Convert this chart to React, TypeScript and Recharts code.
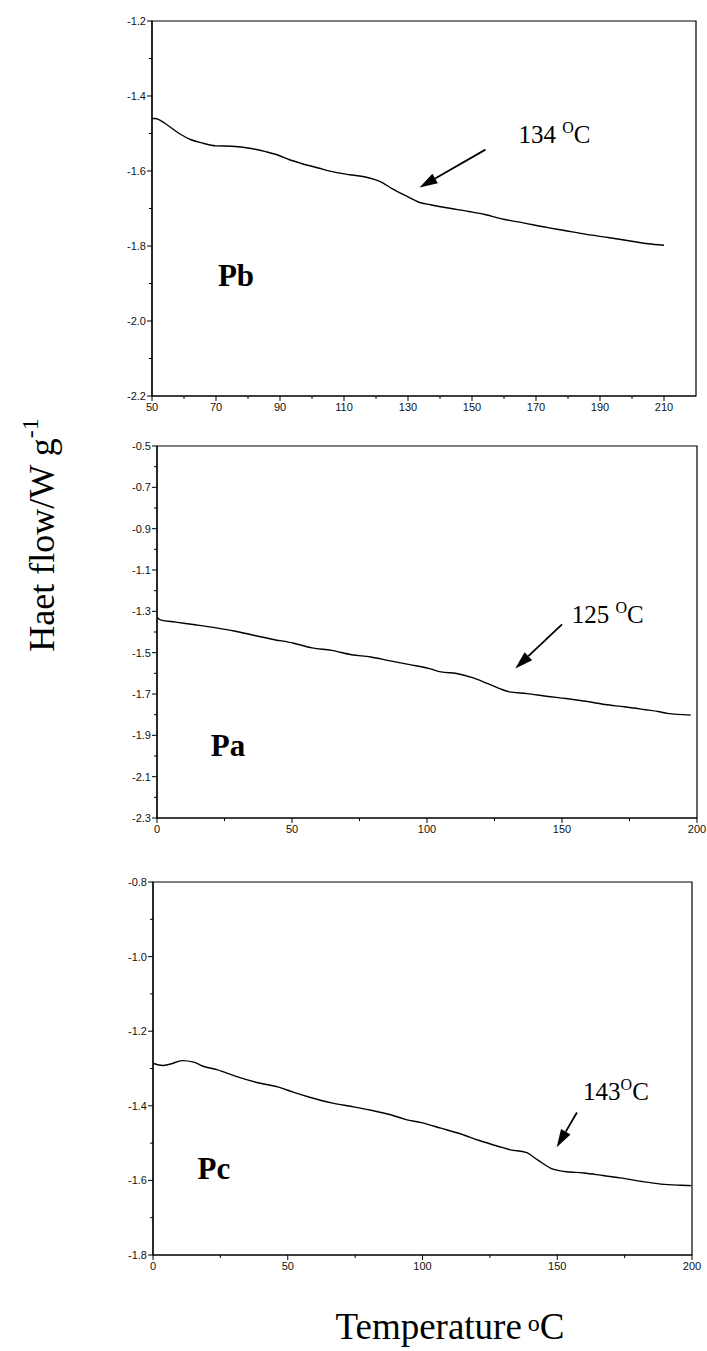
import React from 'react';
import { LineChart, Line, XAxis, YAxis, ReferenceArea, ReferenceDot, ReferenceLine } from 'recharts';

// ---------- Pb ----------
const pbTemp = [50, 51, 54.2, 58.5, 62, 65.5, 70, 75, 81, 85.8, 89.5, 93, 96.7, 102, 107, 111.8, 116.7, 121.5, 125, 130, 133.6, 137, 142, 149, 154, 159, 166.4, 173.7, 178.5, 185.8, 193, 200.4, 205, 210];
const pbFlow = [-1.46, -1.46, -1.474, -1.5, -1.516, -1.525, -1.533, -1.534, -1.54, -1.549, -1.558, -1.57, -1.58, -1.592, -1.603, -1.61, -1.616, -1.629, -1.647, -1.669, -1.684, -1.69, -1.698, -1.708, -1.716, -1.727, -1.739, -1.751, -1.758, -1.769, -1.778, -1.788, -1.794, -1.798];
const pbXMajor = [50, 70, 90, 110, 130, 150, 170, 190, 210];
const pbXMinor = [60, 80, 100, 120, 140, 160, 180, 200];
const pbYMajor = [-1.2, -1.4, -1.6, -1.8, -2.0, -2.2];
const pbYMinor = [-1.3, -1.5, -1.7, -1.9, -2.1];

// ---------- Pa ----------
const paTemp = [0, 1.2, 6.9, 14.1, 21.4, 28.6, 35.8, 43.1, 50.3, 57.5, 64.7, 72, 79.2, 86.4, 93.6, 100.9, 105.2, 111, 116.8, 122.5, 126.9, 130.5, 137, 144.2, 151.5, 158.7, 165.9, 173.1, 180.3, 186.1, 189, 197.7];
const paFlow = [-1.328, -1.341, -1.352, -1.365, -1.379, -1.395, -1.416, -1.436, -1.453, -1.477, -1.489, -1.51, -1.521, -1.54, -1.558, -1.577, -1.593, -1.601, -1.621, -1.65, -1.674, -1.69, -1.698, -1.711, -1.722, -1.735, -1.751, -1.762, -1.775, -1.786, -1.794, -1.802];
const paXMajor = [0, 50, 100, 150, 200];
const paXMinor = [25, 75, 125, 175];
const paYMajor = [-0.5, -0.7, -0.9, -1.1, -1.3, -1.5, -1.7, -1.9, -2.1, -2.3];
const paYMinor = [-0.6, -0.8, -1.0, -1.2, -1.4, -1.6, -1.8, -2.0, -2.2];

// ---------- Pc ----------
const pcTemp = [0, 3.6, 6.5, 10.8, 15.1, 18.6, 23.7, 30.8, 39.4, 46.6, 52.3, 58.1, 66.7, 73.8, 81, 88.2, 93.9, 99.6, 106.8, 114, 121.1, 128.3, 132.6, 138.4, 142.7, 148.4, 152.7, 159.9, 167, 174.2, 181.4, 188.5, 195.7, 199.7];
const pcFlow = [-1.286, -1.292, -1.288, -1.279, -1.283, -1.294, -1.303, -1.321, -1.339, -1.35, -1.364, -1.377, -1.393, -1.402, -1.412, -1.424, -1.437, -1.445, -1.46, -1.475, -1.493, -1.509, -1.518, -1.525, -1.545, -1.57, -1.576, -1.58, -1.587, -1.594, -1.603, -1.61, -1.613, -1.614];
const pcXMajor = [0, 50, 100, 150, 200];
const pcXMinor = [25, 75, 125, 175];
const pcYMajor = [-0.8, -1.0, -1.2, -1.4, -1.6, -1.8];
const pcYMinor = [-0.9, -1.1, -1.3, -1.5, -1.7];

// annotations: [x, y] in data units
const pbNote = { text: '134 ', label: 'Pb', textAt: [164.5, -1.5], tail: [154.2, -1.543], tip: [133.6, -1.644], nameAt: [70.6, -1.878] };
const paNote = { text: '125 ', label: 'Pa', textAt: [153.6, -1.312], tail: [150, -1.363], tip: [132.7, -1.577], nameAt: [19.9, -1.947] };
const pcNote = { text: '143', label: 'Pc', textAt: [159.6, -1.361], tail: [157.3, -1.418], tip: [149.8, -1.511], nameAt: [16.5, -1.567] };

const SANS = '"Liberation Sans", Arial, Helvetica, sans-serif';
const SERIF = '"Liberation Serif", "Times New Roman", Times, serif';

const YW = 40;
const XH = 20;

const isIn = (arr: number[], v: number) => arr.some((m) => Math.abs(m - v) < 1e-6);

const makeYTick = (major: number[]) => (props: any) => {
  const { x, y, payload } = props;
  const mj = isIn(major, payload.value);
  return (
    <g>
      <line x1={x} x2={x - (mj ? 5 : 3)} y1={y} y2={y} stroke="#000" strokeWidth={1} />
      {mj && (
        <text x={x - 6} y={y} dy={4} textAnchor="end" fontSize={11} fontFamily={SANS} fill="#111">
          {Number(payload.value).toFixed(1)}
        </text>
      )}
    </g>
  );
};

const makeXTick = (major: number[]) => (props: any) => {
  const { x, y, payload } = props;
  const mj = isIn(major, payload.value);
  return (
    <g>
      <line x1={x} x2={x} y1={y} y2={y + (mj ? 5 : 3)} stroke="#000" strokeWidth={1} />
      {mj && (
        <text x={x} y={y} dy={15} textAnchor="middle" fontSize={11} fontFamily={SANS} fill="#111">
          {String(payload.value)}
        </text>
      )}
    </g>
  );
};

const arrowShape = (p: any) => {
  const { x1, y1, x2, y2 } = p;
  const ang = Math.atan2(y2 - y1, x2 - x1);
  const L = 18;
  const W = 5.5;
  const bx = x2 - L * Math.cos(ang);
  const by = y2 - L * Math.sin(ang);
  const nx = -Math.sin(ang) * W;
  const ny = Math.cos(ang) * W;
  return (
    <g>
      <line x1={x1} y1={y1} x2={bx} y2={by} stroke="#000" strokeWidth={1.8} />
      <polygon points={`${x2},${y2} ${bx + nx},${by + ny} ${bx - nx},${by - ny}`} fill="#000" />
    </g>
  );
};

type PanelProps = {
  top: number;
  height: number;
  margin: { top: number; right: number; bottom: number; left: number };
  temp: number[];
  flow: number[];
  xDomain: [number, number];
  yDomain: [number, number];
  xMajor: number[];
  xMinor: number[];
  yMajor: number[];
  yMinor: number[];
  note: { text: string; label: string; textAt: number[]; tail: number[]; tip: number[]; nameAt: number[] };
};

const Panel = (p: PanelProps) => {
  const data = p.temp.map((t, i) => ({ t, v: p.flow[i] }));
  const n = p.note;
  const m = { top: p.margin.top, right: p.margin.right, bottom: p.margin.bottom - XH, left: p.margin.left - YW };
  return (
    <div style={{ position: 'absolute', left: 0, top: p.top, width: 707, height: p.height }}>
      <LineChart width={707} height={p.height} margin={m} data={data}>
        <XAxis
          dataKey="t"
          type="number"
          domain={p.xDomain}
          allowDataOverflow
          ticks={[...p.xMajor, ...p.xMinor].sort((a, b) => a - b)}
          interval={0}
          height={XH}
          tickSize={0}
          tickMargin={0}
          tickLine={false}
          axisLine={{ stroke: '#000', strokeWidth: 1.2 }}
          tick={makeXTick(p.xMajor)}
        />
        <YAxis
          type="number"
          domain={p.yDomain}
          allowDataOverflow
          ticks={[...p.yMajor, ...p.yMinor].sort((a, b) => a - b)}
          interval={0}
          width={YW}
          tickSize={0}
          tickMargin={0}
          tickLine={false}
          axisLine={{ stroke: '#000', strokeWidth: 1.2 }}
          tick={makeYTick(p.yMajor)}
        />
        <ReferenceArea
          x1={p.xDomain[0]}
          x2={p.xDomain[1]}
          y1={p.yDomain[0]}
          y2={p.yDomain[1]}
          fill="none"
          fillOpacity={0}
          stroke="#000"
          strokeWidth={1.2}
          ifOverflow="visible"
        />
        <Line
          dataKey="v"
          type="monotone"
          stroke="#000"
          strokeWidth={1.4}
          dot={false}
          activeDot={false}
          isAnimationActive={false}
        />
        <ReferenceLine
          segment={[
            { x: n.tail[0], y: n.tail[1] },
            { x: n.tip[0], y: n.tip[1] },
          ]}
          stroke="#000"
          strokeWidth={1.8}
          ifOverflow="visible"
          shape={arrowShape}
        />
        <ReferenceDot
          x={n.textAt[0]}
          y={n.textAt[1]}
          r={0}
          ifOverflow="visible"
          shape={(sp: any) => (
            <text x={sp.cx} y={sp.cy} dy={9} fontSize={25} fontFamily={SERIF} fill="#000">
              {n.text}
              <tspan fontSize={16} dy={-10}>O</tspan>
              <tspan dy={10}>C</tspan>
            </text>
          )}
        />
        <ReferenceDot
          x={n.nameAt[0]}
          y={n.nameAt[1]}
          r={0}
          ifOverflow="visible"
          shape={(sp: any) => (
            <text x={sp.cx} y={sp.cy} dy={11} fontSize={31} fontWeight="bold" fontFamily={SERIF} fill="#000">
              {n.label}
            </text>
          )}
        />
      </LineChart>
    </div>
  );
};

export default function App() {
  return (
    <div style={{ position: 'absolute', left: 0, top: 0, width: 707, height: 1351, background: '#fff' }}>
      <Panel
        top={0}
        height={430}
        margin={{ top: 21, right: 11, bottom: 34, left: 152 }}
        temp={pbTemp}
        flow={pbFlow}
        xDomain={[50, 220]}
        yDomain={[-2.2, -1.2]}
        xMajor={pbXMajor}
        xMinor={pbXMinor}
        yMajor={pbYMajor}
        yMinor={pbYMinor}
        note={pbNote}
      />
      <Panel
        top={430}
        height={430}
        margin={{ top: 16, right: 10, bottom: 42, left: 157 }}
        temp={paTemp}
        flow={paFlow}
        xDomain={[0, 200]}
        yDomain={[-2.3, -0.5]}
        xMajor={paXMajor}
        xMinor={paXMinor}
        yMajor={paYMajor}
        yMinor={paYMinor}
        note={paNote}
      />
      <Panel
        top={860}
        height={420}
        margin={{ top: 22, right: 15, bottom: 25, left: 153 }}
        temp={pcTemp}
        flow={pcFlow}
        xDomain={[0, 200]}
        yDomain={[-1.8, -0.8]}
        xMajor={pcXMajor}
        xMinor={pcXMinor}
        yMajor={pcYMajor}
        yMinor={pcYMinor}
        note={pcNote}
      />
      <svg
        width={707}
        height={1351}
        style={{ position: 'absolute', left: 0, top: 0, pointerEvents: 'none' }}
      >
        <text
          transform="translate(54,535) rotate(-90)"
          textAnchor="middle"
          fontSize={36}
          fontFamily={SERIF}
          fill="#000"
        >
          Haet flow/W g
          <tspan fontSize={24} dy={-16}>-1</tspan>
        </text>
        <text x={450} y={1339} textAnchor="middle" fontSize={37} fontFamily={SERIF} fill="#000">
          Temperature
          <tspan fontSize={24} dy={-8}> o</tspan>
          <tspan dy={8}>C</tspan>
        </text>
      </svg>
    </div>
  );
}
